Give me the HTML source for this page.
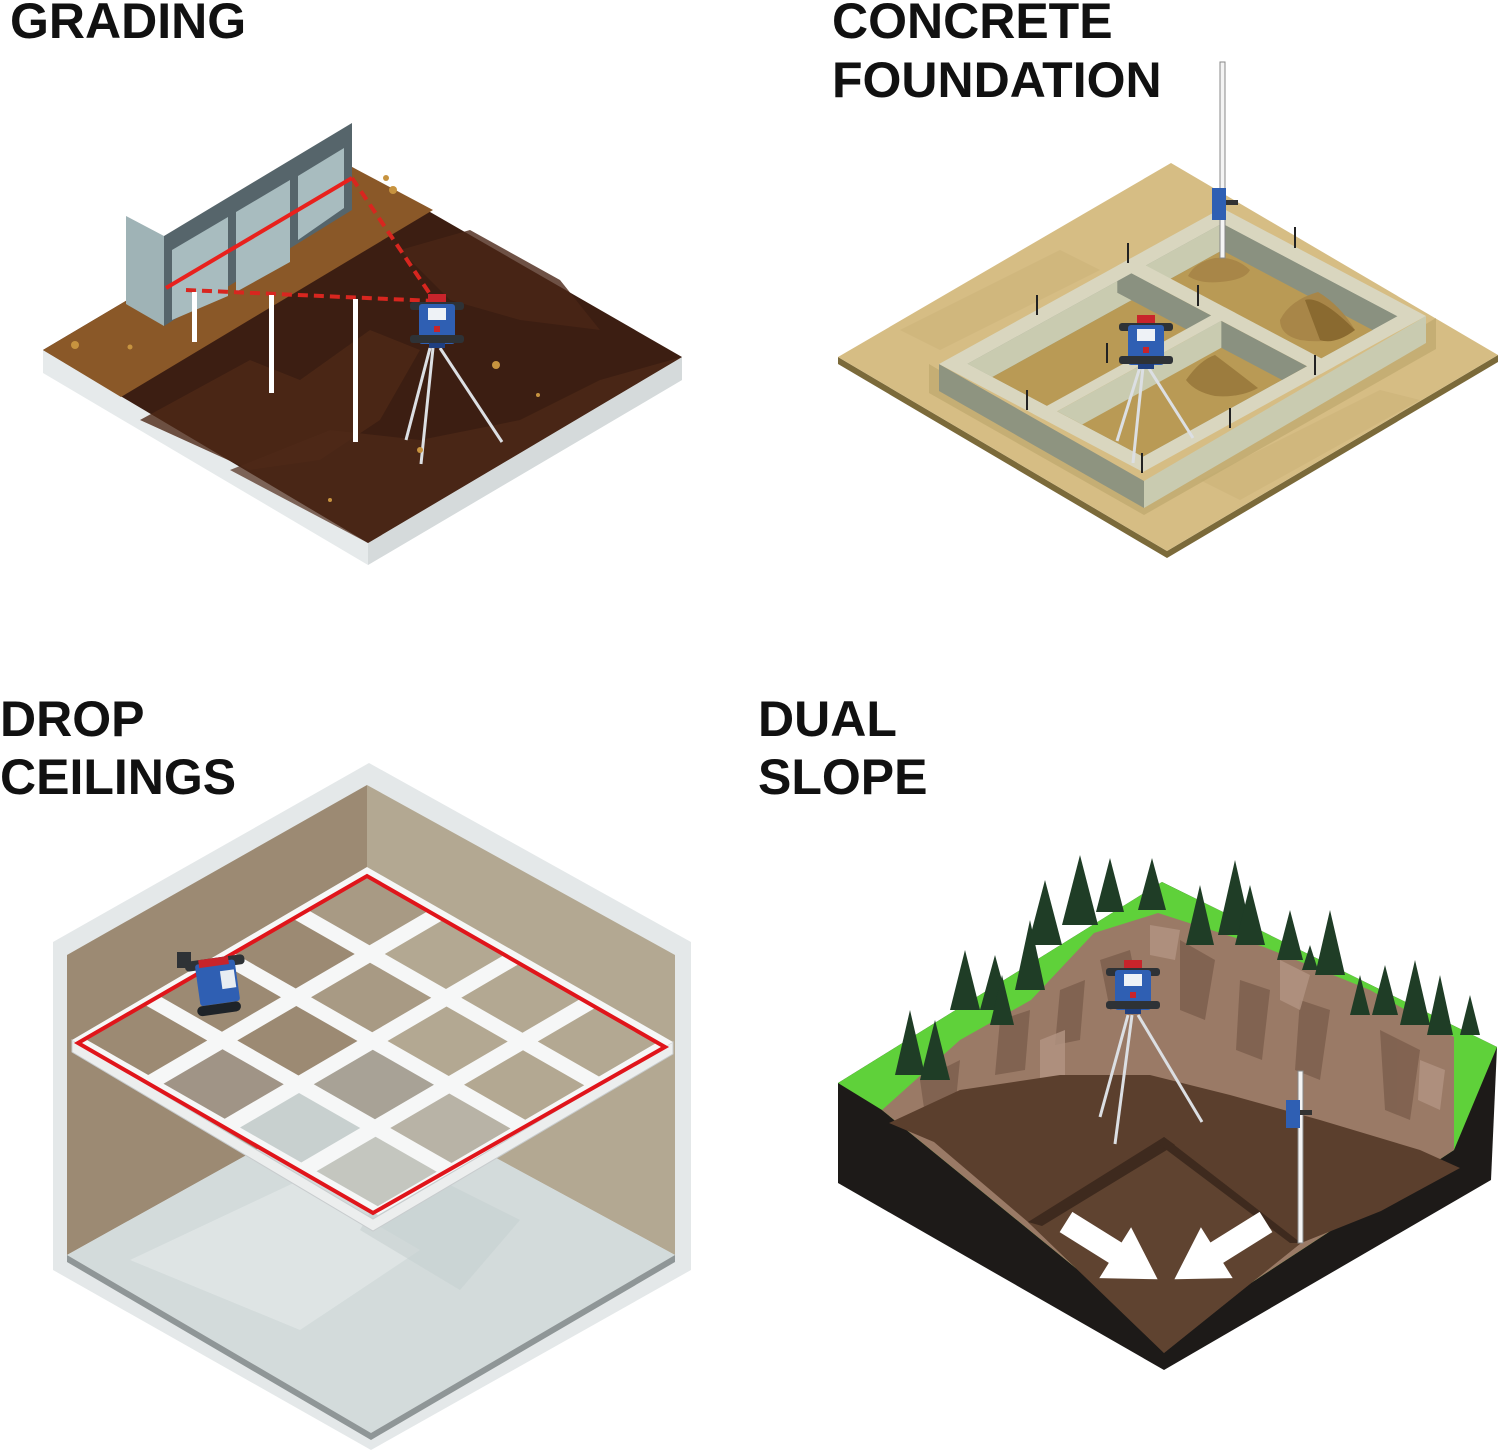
<!DOCTYPE html>
<html><head><meta charset="utf-8"><style>
html,body{margin:0;padding:0;background:#fff;}
svg{display:block;}
text{font-family:"Liberation Sans",sans-serif;font-weight:bold;font-size:50px;fill:#111;}
</style></head><body>
<svg width="1500" height="1450" viewBox="0 0 1500 1450" xmlns="http://www.w3.org/2000/svg">
<defs>
<g id="laser">
  <rect x="-9" y="-8" width="18" height="10" fill="#c8242b"/>
  <rect x="-27" y="0" width="54" height="8" rx="3" fill="#2e3236"/>
  <rect x="-18" y="2" width="36" height="40" rx="3" fill="#2f5fb3"/>
  <rect x="-9" y="6" width="18" height="12" fill="#eef2f6"/>
  <rect x="-3" y="24" width="6" height="6" fill="#c8242b"/>
  <rect x="-27" y="33" width="54" height="8" rx="3" fill="#2e3236"/>
  <rect x="-8" y="41" width="16" height="5" fill="#1f3f80"/>
</g>
<clipPath id="inner"><rect x="0.07" y="0.05" width="0.86" height="0.9"/></clipPath>
</defs>

<text x="10" y="38">GRADING</text>
<text x="832" y="38">CONCRETE</text>
<text x="832" y="97">FOUNDATION</text>
<text x="0" y="736">DROP</text>
<text x="0" y="794">CEILINGS</text>
<text x="758" y="736">DUAL</text>
<text x="758" y="794">SLOPE</text>

<!-- ===== GRADING ===== -->
<polygon points="43,350 368,543 682,357 682,380 368,565 43,373" fill="#e6eaeb"/>
<polygon points="368,543 682,357 682,380 368,565" fill="#d5dadb"/>
<polygon points="43,350 352,167 682,357 368,543" fill="#3c1e12"/>
<polygon points="140,420 250,360 300,380 370,330 420,350 380,420 320,460 250,470" fill="#4e2817" opacity="0.8"/>
<polygon points="400,250 470,230 560,280 600,330 520,320 450,300" fill="#4a2616" opacity="0.8"/>
<polygon points="230,470 330,430 420,440 520,420 600,380 682,357 368,543" fill="#4f2a18" opacity="0.7"/>
<polygon points="43,350 352,167 433,210 121,397" fill="#8a5828"/>
<polygon points="126,216 164,236 164,326 126,304" fill="#9fb3b6"/>
<polygon points="164,236 352,123 352,210 164,326" fill="#56656b"/>
<polygon points="172,250 228,217 228,296 172,320" fill="#a8bcbf"/>
<polygon points="236,212 290,180 290,262 236,292" fill="#a8bcbf"/>
<polygon points="298,176 344,148 344,208 298,240" fill="#a8bcbf"/>
<line x1="166" y1="288" x2="352" y2="178" stroke="#e8211d" stroke-width="4"/>
<line x1="352" y1="178" x2="434" y2="300" stroke="#d8261f" stroke-width="4" stroke-dasharray="10,6"/>
<line x1="186" y1="290" x2="434" y2="301" stroke="#d8261f" stroke-width="4" stroke-dasharray="10,6"/>
<rect x="192" y="292" width="5" height="50" fill="#fff"/>
<rect x="269" y="295" width="5" height="98" fill="#fff"/>
<rect x="353" y="299" width="5" height="143" fill="#fff"/>
<g stroke="#dcdfe3" stroke-width="3">
<line x1="430" y1="348" x2="406" y2="440"/><line x1="433" y1="348" x2="421" y2="464"/><line x1="440" y1="348" x2="502" y2="442"/>
</g>
<use href="#laser" x="437" y="302"/>
<g fill="#c7933f"><circle cx="75" cy="345" r="4"/><circle cx="130" cy="347" r="2.5"/><circle cx="386" cy="178" r="3"/><circle cx="393" cy="190" r="4"/><circle cx="496" cy="365" r="4"/><circle cx="420" cy="450" r="3"/><circle cx="330" cy="500" r="2"/><circle cx="538" cy="395" r="2"/></g>

<!-- ===== CONCRETE FOUNDATION ===== -->
<polygon points="838,357 1167,551 1498,355 1498,362 1167,558 838,364" fill="#7b6a3a"/>
<polygon points="838,357 1171,163 1498,355 1167,551" fill="#d6bd84"/>
<polygon points="900,330 1060,250 1100,270 940,350" fill="#ccb278" opacity="0.6"/>
<polygon points="1200,480 1380,390 1420,400 1240,500" fill="#ccb278" opacity="0.6"/>
<polygon points="929,364 1144,491 1436,318 1436,349 1144,515 929,393" fill="#bda86e" opacity="0.7"/>
<polygon points="939,364 1144,481 1144,508 939,391" fill="#8e9480"/>
<polygon points="1144,481 1426,316 1426,343 1144,508" fill="#c9cbb0"/>
<g transform="matrix(204,108,-283,156,1222,208)">
  <rect x="0" y="0" width="1" height="1" fill="#d9d6bf"/>
  <g clip-path="url(#inner)">
    <rect x="0.07" y="0.05" width="0.86" height="0.9" fill="#8a9180"/>
    <polygon points="0.07,0.05 0.1925,0.1383 0.1925,1.1 0.07,1" fill="#c9cbb0"/>
    <rect x="0.1925" y="0.1383" width="0.86" height="0.9" fill="#b99a55"/>
    <polygon points="0,0.37 1,0.37 1.1225,0.4583 0.1225,0.4583" fill="#8a9180"/>
    <polygon points="0.51,0.37 0.51,1 0.6325,1.0883 0.6325,0.4583" fill="#c9cbb0"/>
  </g>
  <rect x="0" y="0.32" width="1" height="0.05" fill="#d9d6bf"/>
  <rect x="0.46" y="0.32" width="0.05" height="0.68" fill="#d9d6bf"/>
</g>
<path d="M1188,276 Q1195,262 1215,258 Q1235,256 1250,270 Q1245,280 1220,282 Q1200,284 1188,276Z" fill="#a88648"/>
<path d="M1280,320 Q1290,300 1318,292 Q1340,305 1355,330 Q1335,345 1300,340 Q1280,335 1280,320Z" fill="#a88648"/>
<path d="M1305,300 Q1320,295 1355,330 Q1335,345 1320,340Z" fill="#8a6a30"/>
<path d="M1186,380 Q1200,360 1215,355 Q1235,370 1258,388 Q1240,398 1215,396 Q1195,392 1186,380Z" fill="#9c7c3e"/>
<g stroke="#222" stroke-width="2">
<line x1="1037" y1="295" x2="1037" y2="315"/><line x1="1128" y1="243" x2="1128" y2="263"/><line x1="1295" y1="227" x2="1295" y2="248"/>
<line x1="1198" y1="285" x2="1198" y2="306"/><line x1="1107" y1="343" x2="1107" y2="363"/><line x1="1027" y1="390" x2="1027" y2="410"/>
<line x1="1315" y1="355" x2="1315" y2="375"/><line x1="1230" y1="408" x2="1230" y2="428"/><line x1="1142" y1="453" x2="1142" y2="473"/>
</g>
<rect x="1220" y="62" width="5" height="196" fill="#f4f4f4" stroke="#888" stroke-width="1"/>
<rect x="1212" y="188" width="14" height="32" fill="#2f5fb3"/>
<rect x="1226" y="200" width="12" height="5" fill="#333"/>
<g stroke="#dcdfe3" stroke-width="3">
<line x1="1140" y1="367" x2="1117" y2="441"/><line x1="1143" y1="367" x2="1133" y2="463"/><line x1="1148" y1="367" x2="1193" y2="438"/>
</g>
<use href="#laser" x="1146" y="323"/>

<!-- ===== DROP CEILINGS ===== -->
<polygon points="369,763 53,942 53,1270 371,1450 691,1270 691,942" fill="#e4e8e9"/>
<polygon points="67,955 367,785 367,1088 67,1255" fill="#9c8a73"/>
<polygon points="367,785 675,955 675,1255 367,1088" fill="#b3a892"/>
<polygon points="67,1255 367,1088 675,1255 371,1433" fill="#d3dbdb"/>
<polygon points="130,1260 300,1180 420,1250 300,1330" fill="#e3e8e8" opacity="0.7"/>
<polygon points="400,1160 520,1220 460,1290 360,1230" fill="#c6d0d1" opacity="0.6"/>
<polygon points="67,1255 371,1433 675,1255 675,1262 371,1440 67,1262" fill="#8f9697"/>
<polygon points="72,1040 373,1219 673,1042 673,1054 373,1231 72,1052" fill="#eceeee" stroke="#c8ccce" stroke-width="1"/>
<g transform="matrix(306,175,-295,173,367,867)">
  <rect x="0" y="0" width="1" height="1" fill="#f6f7f7"/>
  <rect x="0.025" y="0.025" width="0.2" height="0.2" fill="#a89a84"/>
  <rect x="0.275" y="0.025" width="0.2" height="0.2" fill="#b3a892"/>
  <rect x="0.525" y="0.025" width="0.2" height="0.2" fill="#b3a892"/>
  <rect x="0.775" y="0.025" width="0.2" height="0.2" fill="#b3a892"/>
  <rect x="0.025" y="0.275" width="0.2" height="0.2" fill="#9c8a73"/>
  <rect x="0.275" y="0.275" width="0.2" height="0.2" fill="#a89a84"/>
  <rect x="0.525" y="0.275" width="0.2" height="0.2" fill="#b3a892"/>
  <rect x="0.775" y="0.275" width="0.2" height="0.2" fill="#b3a892"/>
  <rect x="0.025" y="0.525" width="0.2" height="0.2" fill="#9c8a73"/>
  <rect x="0.275" y="0.525" width="0.2" height="0.2" fill="#9c8a73"/>
  <rect x="0.525" y="0.525" width="0.2" height="0.2" fill="#a8a296"/>
  <rect x="0.775" y="0.525" width="0.2" height="0.2" fill="#b8b3a6"/>
  <rect x="0.025" y="0.775" width="0.2" height="0.2" fill="#9c8a73"/>
  <rect x="0.275" y="0.775" width="0.2" height="0.2" fill="#a09486"/>
  <rect x="0.525" y="0.775" width="0.2" height="0.2" fill="#c8d0cf"/>
  <rect x="0.775" y="0.775" width="0.2" height="0.2" fill="#c4c6bf"/>
</g>
<polygon points="78,1043 367,876 665,1047 373,1213" fill="none" stroke="#e0151b" stroke-width="4"/>
<g transform="translate(214,958) rotate(-8)">
  <rect x="-30" y="0" width="60" height="10" rx="4" fill="#2e3236"/>
  <rect x="-20" y="4" width="40" height="42" rx="3" fill="#2f5fb3"/>
  <rect x="-16" y="0" width="30" height="8" fill="#c8242b"/>
  <rect x="4" y="14" width="14" height="18" fill="#e8edf2"/>
  <rect x="-24" y="46" width="44" height="10" rx="5" fill="#1e2328"/>
</g>
<rect x="177" y="952" width="14" height="16" fill="#2e3236"/>

<!-- ===== DUAL SLOPE ===== -->
<polygon points="838,1083 1162,882 1497,1047 1491,1180 1164,1370 838,1183" fill="#1d1a18"/>
<polygon points="838,1083 1162,882 1497,1047 1454,1150 1164,1340 882,1110" fill="#5fd13a"/>
<polygon points="882,1110 960,1040 1031,1000 1094,933 1158,913 1264,947 1370,990 1454,1037 1454,1150 1164,1340" fill="#9a7a66"/>
<g fill="#7c5e4c" opacity="0.8">
<polygon points="1100,960 1130,950 1140,1000 1110,1010"/><polygon points="1180,940 1215,960 1205,1020 1180,1010"/>
<polygon points="1240,980 1270,990 1262,1060 1236,1050"/><polygon points="1300,1000 1330,1010 1320,1080 1295,1070"/>
<polygon points="1380,1030 1420,1050 1410,1120 1385,1110"/><polygon points="1000,1020 1030,1010 1025,1070 995,1075"/>
<polygon points="920,1080 960,1060 955,1110 925,1115"/><polygon points="1060,990 1085,980 1080,1040 1055,1045"/>
</g>
<g fill="#b39583" opacity="0.8">
<polygon points="1150,925 1180,930 1175,960 1150,955"/><polygon points="1280,960 1310,975 1300,1010 1280,1000"/>
<polygon points="1420,1060 1445,1070 1440,1110 1418,1100"/><polygon points="1040,1040 1065,1030 1065,1075 1040,1080"/>
</g>
<polygon points="889,1123 960,1090 1060,1075 1150,1075 1230,1095 1320,1120 1420,1150 1460,1168 1381,1211 1301,1243 1164,1353 1028,1222 934,1142" fill="#5b3f2d"/>
<polygon points="1028,1222 1164,1137 1301,1243 1164,1353" fill="#5f4330"/>
<polygon points="1028,1222 1164,1137 1175,1145 1042,1226" fill="#3e2a1e"/>
<polygon points="1164,1137 1301,1243 1290,1243 1160,1145" fill="#3e2a1e"/>
<g fill="#fff">
<g transform="translate(1066,1222) rotate(32)"><polygon points="0,-12 58,-12 58,-30 108,0 58,30 58,12 0,12"/></g>
<g transform="translate(1266,1222) rotate(148)"><polygon points="0,-12 58,-12 58,-30 108,0 58,30 58,12 0,12"/></g>
</g>
<g fill="#1f3d26">
<polygon points="910,1010 895,1075 925,1075"/><polygon points="935,1020 920,1080 950,1080"/>
<polygon points="965,950 950,1010 980,1010"/><polygon points="995,955 980,1010 1010,1010"/>
<polygon points="1030,920 1015,990 1045,990"/><polygon points="1045,880 1028,945 1062,945"/>
<polygon points="1080,855 1062,925 1098,925"/><polygon points="1110,858 1096,912 1124,912"/>
<polygon points="1152,858 1138,910 1166,910"/><polygon points="1200,885 1186,945 1214,945"/>
<polygon points="1235,860 1218,935 1252,935"/><polygon points="1250,885 1235,945 1265,945"/>
<polygon points="1290,910 1277,960 1303,960"/><polygon points="1330,910 1315,975 1345,975"/>
<polygon points="1310,945 1302,970 1318,970"/><polygon points="1385,965 1372,1015 1398,1015"/>
<polygon points="1415,960 1400,1025 1430,1025"/><polygon points="1440,975 1427,1035 1453,1035"/>
<polygon points="1470,995 1460,1035 1480,1035"/><polygon points="1360,975 1350,1015 1370,1015"/>
<polygon points="1002,975 990,1025 1014,1025"/>
</g>
<rect x="1298" y="1071" width="5" height="172" fill="#f4f4f4" stroke="#888" stroke-width="1"/>
<rect x="1286" y="1100" width="14" height="28" fill="#2f5fb3"/>
<rect x="1300" y="1110" width="12" height="5" fill="#333"/>
<g stroke="#dcdfe3" stroke-width="3">
<line x1="1128" y1="1015" x2="1100" y2="1117"/><line x1="1132" y1="1015" x2="1115" y2="1144"/><line x1="1138" y1="1015" x2="1202" y2="1122"/>
</g>
<use href="#laser" x="1133" y="968"/>
</svg>
</body></html>
